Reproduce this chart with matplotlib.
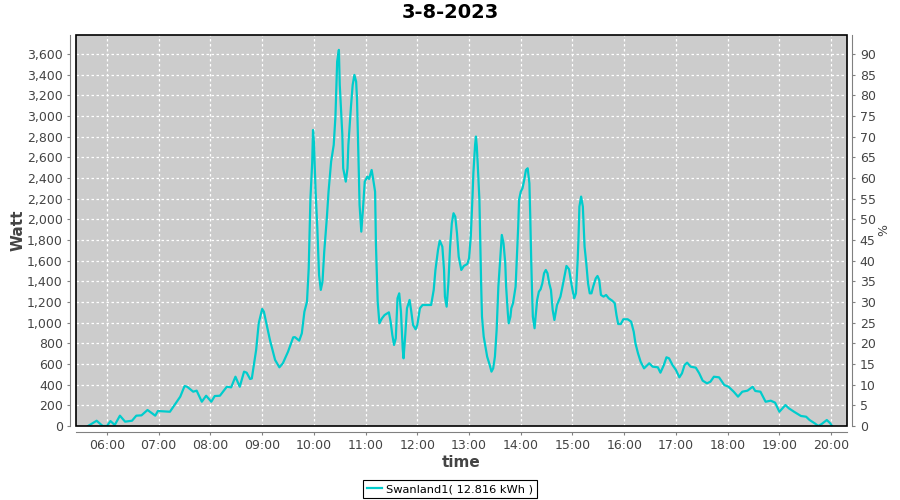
import numpy as np
import matplotlib
matplotlib.use('Agg')
import matplotlib.pyplot as plt
from matplotlib.patches import Rectangle
from matplotlib.ticker import FuncFormatter, MultipleLocator

title = "3-8-2023"
series_name = "Swanland1( 12.816 kWh )"

times = ["05:38", "05:48", "05:55", "06:00", "06:04", "06:09", "06:15", "06:21", "06:29", "06:34",
         "06:40", "06:47", "06:56", "06:59", "07:13", "07:17", "07:25", "07:30", "07:33", "07:40",
         "07:44", "07:50", "07:55", "08:01", "08:05", "08:11", "08:19", "08:24", "08:29", "08:34",
         "08:39", "08:42", "08:46", "08:48", "08:53", "08:56", "09:00", "09:02", "09:09", "09:15",
         "09:20", "09:24", "09:30", "09:36", "09:38", "09:43", "09:46", "09:49", "09:52", "09:54",
         "09:56", "09:58", "09:59", "10:00", "10:02", "10:04", "10:06", "10:08", "10:10", "10:12",
         "10:15", "10:17", "10:20", "10:23", "10:25", "10:27", "10:29", "10:30", "10:33", "10:34",
         "10:37", "10:39", "10:40", "10:43", "10:45", "10:47", "10:49", "10:50", "10:51", "10:52",
         "10:53", "10:55", "10:57", "10:59", "11:02", "11:04", "11:07", "11:08", "11:11", "11:12",
         "11:13", "11:14", "11:16", "11:19", "11:22", "11:27", "11:29", "11:31", "11:33", "11:35",
         "11:37", "11:39", "11:41", "11:43", "11:44", "11:46", "11:48", "11:51", "11:53", "11:55",
         "11:58", "12:00", "12:03", "12:06", "12:16", "12:19", "12:21", "12:24", "12:26", "12:29",
         "12:31", "12:32", "12:34", "12:36", "12:38", "12:40", "12:42", "12:44", "12:46", "12:48",
         "12:51", "12:54", "12:58", "13:00", "13:02", "13:04", "13:05", "13:07", "13:08", "13:09",
         "13:10", "13:12", "13:13", "13:14", "13:15", "13:17", "13:19", "13:21", "13:24", "13:26",
         "13:28", "13:30", "13:32", "13:34", "13:36", "13:38", "13:40", "13:42", "13:43", "13:45",
         "13:46", "13:48", "13:49", "13:51", "13:54", "13:55", "13:57", "13:58", "14:00", "14:02",
         "14:04", "14:06", "14:08", "14:10", "14:11", "14:12", "14:13", "14:14", "14:16", "14:17",
         "14:19", "14:21", "14:23", "14:25", "14:27", "14:29", "14:31", "14:33", "14:35", "14:37",
         "14:39", "14:40", "14:42", "14:46", "14:48", "14:51", "14:53", "14:56", "14:58", "15:00",
         "15:02", "15:04", "15:06", "15:07", "15:08", "15:10", "15:12", "15:13", "15:14", "15:16",
         "15:18", "15:20", "15:22", "15:24", "15:27", "15:29", "15:31", "15:33", "15:36", "15:39",
         "15:42", "15:46", "15:49", "15:51", "15:53", "15:56", "15:59", "16:04", "16:08", "16:11",
         "16:13", "16:16", "16:19", "16:23", "16:29", "16:33", "16:39", "16:42", "16:46", "16:49",
         "16:52", "16:56", "17:00", "17:04", "17:07", "17:10", "17:13", "17:17", "17:23", "17:27",
         "17:31", "17:36", "17:40", "17:44", "17:50", "17:56", "18:01", "18:07", "18:12", "18:17",
         "18:23", "18:29", "18:32", "18:38", "18:44", "18:50", "18:55", "19:00", "19:07", "19:11",
         "19:17", "19:25", "19:31", "19:35", "19:41", "19:45", "19:49", "19:55", "19:59", "20:01"]

watt = [0, 51, 0, 0, 48, 10, 100, 42, 51, 100,
        103, 155, 100, 145, 138, 187, 284, 387, 380, 332,
        342, 235, 293, 235, 290, 293, 380, 374, 477, 380,
        526, 516, 455, 460, 736, 994, 1133, 1106, 833, 639,
        568, 607, 719, 858, 860, 826, 897, 1106, 1203, 1526,
        2204, 2543, 2865, 2752, 2268, 1914, 1462, 1317, 1397, 1687,
        2010, 2268, 2559, 2720, 2994, 3527, 3640, 3301, 2817, 2494,
        2365, 2494, 2720, 3091, 3301, 3398, 3333, 3172, 2849, 2494,
        2139, 1881, 2107, 2365, 2413, 2391, 2478, 2430, 2268, 1752,
        1462, 1203, 994, 1042, 1074, 1100, 1010, 881, 784, 849,
        1236, 1284, 1106, 752, 655, 881, 1139, 1220, 1106, 978,
        936, 978, 1139, 1171, 1171, 1317, 1510, 1704, 1794, 1736,
        1510, 1252, 1155, 1381, 1736, 1962, 2059, 2026, 1865, 1639,
        1510, 1549, 1568, 1623, 1833, 2220, 2446, 2720, 2801, 2704,
        2543, 2188, 1768, 1381, 1058, 865, 768, 671, 590, 526,
        558, 671, 929, 1349, 1607, 1849, 1768, 1575, 1349, 1091,
        994, 1058, 1139, 1188, 1349, 1542, 1929, 2188, 2268, 2301,
        2381, 2478, 2494, 2349, 2026, 1639, 1317, 1058, 946, 1042,
        1220, 1300, 1323, 1381, 1478, 1510, 1478, 1381, 1317, 1123,
        1026, 1074, 1171, 1252, 1333, 1462, 1549, 1517, 1413, 1317,
        1236, 1284, 1607, 1833, 2123, 2220, 2123, 1929, 1736, 1575,
        1381, 1284, 1284, 1349, 1429, 1452, 1413, 1268, 1252, 1268,
        1236, 1213, 1188, 1074, 987, 987, 1033, 1033, 1010, 913,
        800, 703, 623, 558, 607, 574, 568, 516, 590, 665,
        655, 590, 542, 471, 510, 590, 613, 574, 565, 510,
        439, 413, 429, 477, 471, 397, 380, 332, 284, 332,
        342, 380, 339, 332, 235, 245, 226, 138, 203, 171,
        138, 97, 90, 58, 26, 0, 19, 58, 26, 0]

hour_ticks = list(range(6, 21))
hours = np.array([int(t[:2]) + int(t[3:]) / 60 for t in times])

fig = plt.figure(figsize=(9, 5), dpi=100)
ax = fig.add_axes([0.0844, 0.148, 0.8563, 0.782])
ax.set_facecolor('#CCCCCC')
ax.plot(hours, watt, color='#00CCCC', lw=1.6, zorder=3)

ax.set_xlim(5.40, 20.30)
ax.set_ylim(0, 3784)
ax.set_xticks(hour_ticks)
ax.set_xticklabels([f"{h:02d}:00" for h in hour_ticks])
ax.yaxis.set_major_locator(MultipleLocator(200))
ax.yaxis.set_major_formatter(FuncFormatter(lambda v, p: f"{int(v):,}"))
ax.grid(True, color='white', ls=(0, (2, 2)), lw=0.9)

ax2 = ax.twinx()
ax2.set_ylim(0, 3784 / 40)
ax2.yaxis.set_major_locator(MultipleLocator(5))

grey = '#808080'
for a in (ax, ax2):
    for s in a.spines.values():
        s.set_visible(False)
    a.tick_params(colors='#444444', labelsize=9, length=2, width=0.8)
    a.tick_params(axis='both', color=grey)
for side in ('left', 'bottom'):
    ax.spines[side].set_visible(True)
    ax.spines[side].set_position(('outward', 4))
    ax.spines[side].set_color(grey)
ax2.spines['right'].set_visible(True)
ax2.spines['right'].set_position(('outward', 4))
ax2.spines['right'].set_color(grey)

ax.add_patch(Rectangle((0, 0), 1, 1, transform=ax.transAxes, fill=False,
                       ec='black', lw=1.2, zorder=5, clip_on=False))

ax.set_xlabel("time", fontsize=11, fontweight='bold', color='#444444', labelpad=2)
ax.set_ylabel("Watt", fontsize=11, fontweight='bold', color='#444444', labelpad=1)
ax2.set_ylabel("%", fontsize=9, color='#444444', labelpad=1)
fig.suptitle(title, fontsize=14, fontweight='bold', y=0.995)

line = plt.Line2D([], [], color='#00CCCC', lw=1.6)
leg = fig.legend([line], [series_name], loc='lower center', bbox_to_anchor=(0.5, -0.006),
                 fontsize=8.2, fancybox=False, framealpha=1, edgecolor='black',
                 handlelength=1.3, handletextpad=0.3, borderpad=0.35, borderaxespad=0.4)
leg.get_frame().set_linewidth(0.8)

fig.savefig("out.png", dpi=100)
